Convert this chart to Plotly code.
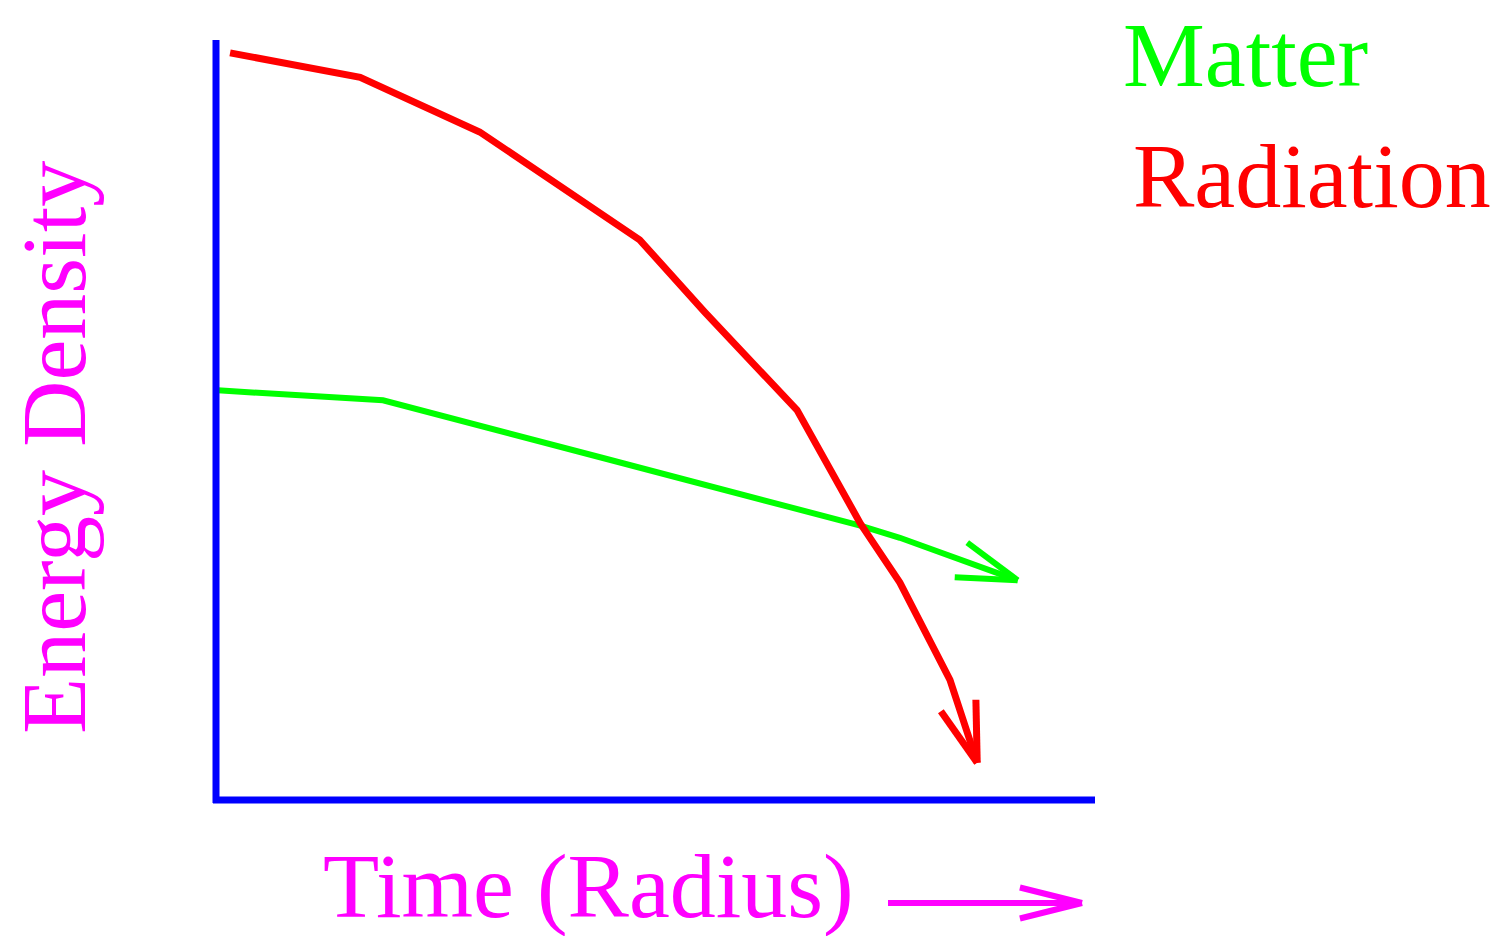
import math
import plotly.graph_objects as go

# Energy density of the universe's components versus time (arbitrary units)
radiation_t = [0.16, 1.64, 3.00, 4.82, 5.56, 6.61, 7.33, 7.78, 8.35, 8.66]
radiation_u = [9.83, 9.51, 8.79, 7.37, 6.42, 5.13, 3.64, 2.86, 1.58, 0.49]

matter_t = [0.02, 1.90, 4.37, 7.33, 7.78, 9.12]
matter_u = [5.39, 5.26, 4.51, 3.61, 3.45, 2.89]

series_names = ["Matter", "Radiation"]
x_title = "Time (Radius)"
y_title = "Energy Density"

# Page and plot-area geometry (pixels)
W, H = 1507, 936
PLOT_LEFT, PLOT_RIGHT = 216, 1095
PLOT_TOP, PLOT_BOTTOM = 40, 800
X_RANGE = (0, 10)
Y_RANGE = (0, 10)

GREEN = "#00FF00"
RED = "#FF0000"
MAGENTA = "#FF00FF"
BLUE = "#0000FF"
FONT = "Liberation Serif, Times New Roman, serif"

sx = (PLOT_RIGHT - PLOT_LEFT) / (X_RANGE[1] - X_RANGE[0])
sy = (PLOT_BOTTOM - PLOT_TOP) / (Y_RANGE[1] - Y_RANGE[0])


def barbs(xs, ys, length=63, angle=17):
    """Two arrowhead barbs at the end of a polyline, in data units."""
    dx = (xs[-1] - xs[-2]) * sx
    dy = (ys[-1] - ys[-2]) * sy
    theta = math.atan2(dy, dx)
    out = []
    for sgn in (1, -1):
        a = theta + math.pi + sgn * math.radians(angle)
        bx = xs[-1] + length * math.cos(a) / sx
        by = ys[-1] + length * math.sin(a) / sy
        out.append(([bx, xs[-1]], [by, ys[-1]]))
    return out


fig = go.Figure()

fig.add_trace(go.Scatter(x=matter_t, y=matter_u, mode="lines",
                         line=dict(color=GREEN, width=6), name=series_names[0]))
for bx, by in barbs(matter_t, matter_u):
    fig.add_trace(go.Scatter(x=bx, y=by, mode="lines",
                             line=dict(color=GREEN, width=6)))

fig.add_trace(go.Scatter(x=radiation_t, y=radiation_u, mode="lines",
                         line=dict(color=RED, width=7), name=series_names[1]))
for bx, by in barbs(radiation_t, radiation_u):
    fig.add_trace(go.Scatter(x=bx, y=by, mode="lines",
                             line=dict(color=RED, width=7)))


def px(x):
    return x / W


def py(y):
    return 1 - y / H


annotations = [
    dict(text=series_names[0], x=px(1121), y=py(55), xanchor="left", yanchor="middle",
         font=dict(size=92, color=GREEN, family=FONT)),
    dict(text=series_names[1], x=px(1131), y=py(176), xanchor="left", yanchor="middle",
         font=dict(size=92, color=RED, family=FONT)),
    dict(text=x_title, x=px(321), y=py(886), xanchor="left", yanchor="middle",
         font=dict(size=92, color=MAGENTA, family=FONT)),
    dict(text=y_title, x=px(54), y=py(448), xanchor="center", yanchor="middle",
         textangle=-90, font=dict(size=92, color=MAGENTA, family=FONT)),
]
for a in annotations:
    a.update(xref="paper", yref="paper", showarrow=False)

shapes = []
# Blue axes drawn along the left and bottom edges of the plot area
shapes.append(dict(type="line", xref="paper", yref="paper",
                   x0=px(PLOT_LEFT), x1=px(PLOT_LEFT),
                   y0=py(PLOT_TOP), y1=py(PLOT_BOTTOM + 3),
                   line=dict(color=BLUE, width=7)))
shapes.append(dict(type="line", xref="paper", yref="paper",
                   x0=px(PLOT_LEFT - 3), x1=px(PLOT_RIGHT),
                   y0=py(PLOT_BOTTOM), y1=py(PLOT_BOTTOM),
                   line=dict(color=BLUE, width=7)))

# Arrow beside the time label
ax0, ax1, ay = 888, 1082, 903
shapes.append(dict(type="line", xref="paper", yref="paper",
                   x0=px(ax0), x1=px(ax1), y0=py(ay), y1=py(ay),
                   line=dict(color=MAGENTA, width=6)))
for sgn in (1, -1):
    a = math.pi + sgn * math.radians(14)
    bx = ax1 + 64 * math.cos(a)
    by = ay + 64 * math.sin(a)
    shapes.append(dict(type="line", xref="paper", yref="paper",
                       x0=px(bx), y0=py(by), x1=px(ax1), y1=py(ay),
                       line=dict(color=MAGENTA, width=6)))

fig.update_layout(
    width=W, height=H,
    margin=dict(l=0, r=0, t=0, b=0),
    paper_bgcolor="white", plot_bgcolor="white",
    showlegend=False,
    annotations=annotations,
    shapes=shapes,
    xaxis=dict(domain=[PLOT_LEFT / W, PLOT_RIGHT / W], range=list(X_RANGE),
               showline=False, showgrid=False, zeroline=False,
               showticklabels=False, ticks=""),
    yaxis=dict(domain=[1 - PLOT_BOTTOM / H, 1 - PLOT_TOP / H], range=list(Y_RANGE),
               showline=False, showgrid=False, zeroline=False,
               showticklabels=False, ticks=""),
)

fig.write_html("out.html", config={"displayModeBar": False})
